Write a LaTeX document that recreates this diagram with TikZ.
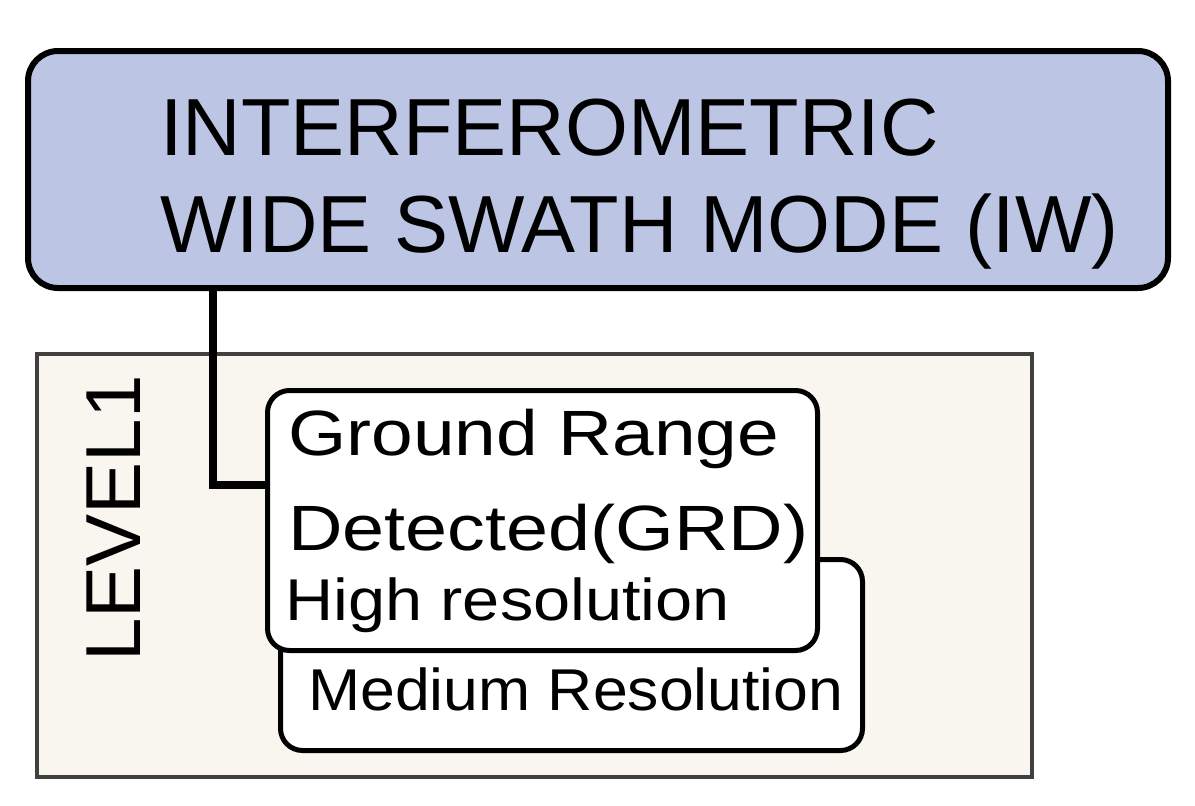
\documentclass[tikz,border=0pt]{standalone}
\usepackage{fontspec}
\usepackage{graphicx}
\setmainfont{Liberation Sans}
\begin{document}
\begin{tikzpicture}[x=1pt,y=-1pt,
  lbl/.style={anchor=base west,inner sep=0pt},
  rbox/.style={draw=black,line width=5pt,rounded corners=22pt,fill=white}]
\useasboundingbox (0,0) rectangle (1195,806);
\definecolor{topc}{HTML}{BCC5E4}
\definecolor{lvc}{HTML}{F8F6EF}
\node[draw=black!75,line width=4pt,fill=lvc,minimum width=995pt,minimum height=423pt,anchor=north west,inner sep=0pt] (lvl) at (35,352) {};
\node[draw=black,line width=6pt,rounded corners=30pt,fill=topc,minimum width=1140pt,minimum height=237pt,anchor=north west,inner sep=0pt] (top) at (25,48) {};
\node[lbl,font=\fontsize{81}{81}\selectfont] (t1) at (160,155) {INTERFEROMETRIC};
\node[lbl,font=\fontsize{81}{81}\selectfont] (t2) at (160,252) {WIDE SWATH MODE (IW)};
\node[lbl,rotate=90,font=\fontsize{78}{78}\selectfont] (l1) at (140,662) {LEVEL1};
\node[rbox,minimum width=582pt,minimum height=191pt,anchor=north west,inner sep=0pt] (med) at (278,557) {};
\node[rbox,minimum width=550pt,minimum height=260pt,anchor=north west,inner sep=0pt] (grd) at (265,388) {};
\node[lbl,font=\fontsize{64}{64}\selectfont] (g1) at (288,455) {\scalebox{1.17}[1]{Ground Range}};
\node[lbl,font=\fontsize{64}{64}\selectfont] (g2) at (288,550) {\scalebox{1.18}[1]{Detected(GRD)}};
\node[lbl,font=\fontsize{59}{59}\selectfont] (g3) at (285,620) {\scalebox{1.13}[1]{High resolution}};
\node[lbl,font=\fontsize{59}{59}\selectfont] (m1) at (308,710) {\scalebox{1.06}[1]{Medium Resolution}};
\coordinate (c1) at (213,485);
\draw[line width=8pt] (top.south west -| c1) -- (c1) -- (c1 -| grd.west);
\end{tikzpicture}
\end{document}
